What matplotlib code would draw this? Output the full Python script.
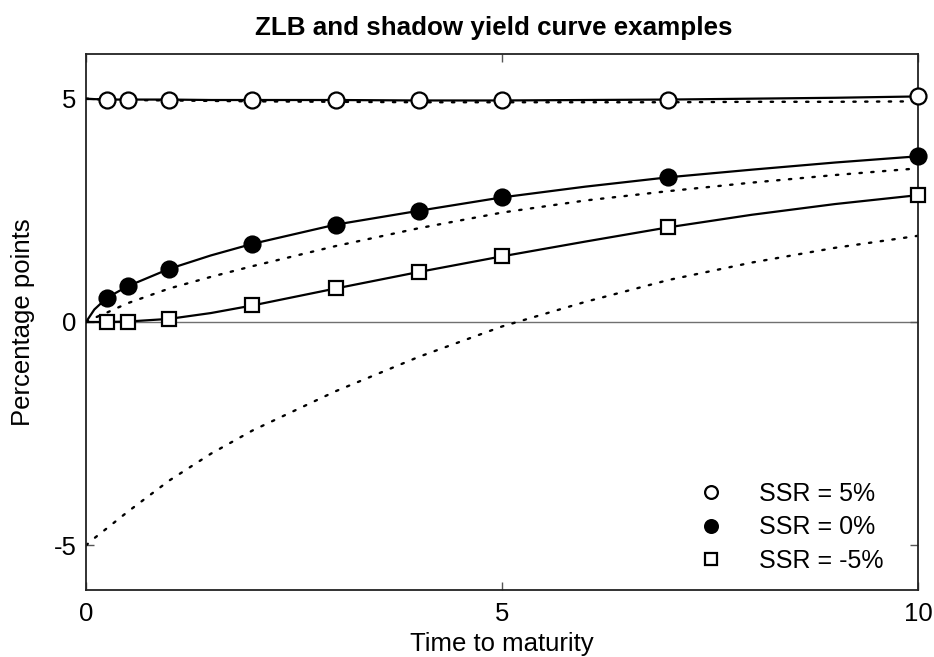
import numpy as np
import matplotlib
matplotlib.use("Agg")
import matplotlib.pyplot as plt

plt.rcParams['font.family'] = ['Liberation Sans', 'DejaVu Sans']
plt.rcParams['axes.unicode_minus'] = False

# maturities where the markers sit
mat = [0.25, 0.5, 1, 2, 3, 4, 5, 7, 10]
pts_ssr5 = [4.98, 4.98, 4.98, 4.97, 4.97, 4.96, 4.96, 4.98, 5.05]
pts_ssr0 = [0.54, 0.80, 1.19, 1.75, 2.18, 2.49, 2.79, 3.24, 3.71]
pts_ssrm5 = [0.0, 0.0, 0.07, 0.37, 0.75, 1.12, 1.47, 2.12, 2.84]

grid = [0, 0.1, 0.25, 0.5, 1, 1.5, 2, 3, 4, 5, 6, 7, 8, 9, 10]
zlb_ssr5 = [5.0, 4.99, 4.98, 4.98, 4.98, 4.97, 4.97, 4.97, 4.96, 4.96, 4.97, 4.98, 5.0, 5.02, 5.05]
zlb_ssr0 = [0.0, 0.28, 0.54, 0.80, 1.19, 1.49, 1.75, 2.18, 2.49, 2.79, 3.03, 3.24, 3.41, 3.57, 3.71]
zlb_ssrm5 = [0.0, 0.0, 0.0, 0.01, 0.07, 0.20, 0.37, 0.75, 1.12, 1.47, 1.80, 2.12, 2.40, 2.64, 2.84]
sh_ssr5 = [5.0, 4.99, 4.98, 4.97, 4.96, 4.95, 4.94, 4.93, 4.92, 4.92, 4.92, 4.92, 4.93, 4.93, 4.94]
sh_ssr0 = [0.0, 0.09, 0.21, 0.42, 0.75, 1.01, 1.25, 1.70, 2.10, 2.45, 2.72, 2.93, 3.12, 3.29, 3.44]
sh_ssrm5 = [-5.0, -4.84, -4.62, -4.25, -3.55, -2.95, -2.43, -1.55, -0.78, -0.10, 0.45, 0.94, 1.33, 1.66, 1.93]

fig = plt.figure(figsize=(9.34, 6.57), dpi=100)
ax = fig.add_axes([0.0921, 0.102, 0.8908, 0.8158])

ax.axhline(0, color='#707070', lw=1.0, zorder=1)

dots = (0, (1, 4))
for sh in [sh_ssr5, sh_ssr0, sh_ssrm5]:
    ax.plot(grid, sh, color='black', lw=1.7, linestyle=dots, dash_capstyle='round', zorder=2)
for z in [zlb_ssr5, zlb_ssr0, zlb_ssrm5]:
    ax.plot(grid, z, color='black', lw=1.6, zorder=3)

ax.plot(mat, pts_ssr5, 'o', ms=11.5, mfc='white', mec='black', mew=1.6, ls='none', label='SSR = 5%', zorder=4, clip_on=False)
ax.plot(mat, pts_ssr0, 'o', ms=11.5, mfc='black', mec='black', mew=1.6, ls='none', label='SSR = 0%', zorder=4, clip_on=False)
ax.plot(mat, pts_ssrm5, 's', ms=10, mfc='white', mec='black', mew=1.6, ls='none', label='SSR = -5%', zorder=4, clip_on=False)

ax.set_xlim(0, 10)
ax.set_ylim(-6, 6)
ax.set_xticks([0, 5, 10])
ax.set_yticks([-5, 0, 5])
ax.tick_params(direction='in', length=6, width=1, color='#555555', labelsize=18.5,
               top=True, right=True)
ax.tick_params(axis='x', pad=9)
ax.tick_params(axis='y', pad=7)
for s in ax.spines.values():
    s.set_linewidth(1.3)
    s.set_color('#222222')

ax.set_title('ZLB and shadow yield curve examples', fontsize=18.7, fontweight='bold', pad=14, x=0.49)
ax.set_xlabel('Time to maturity', fontsize=18.5, labelpad=4)
ax.set_ylabel('Percentage points', fontsize=18.5, labelpad=13)

leg = ax.legend(loc='lower right', frameon=False, fontsize=18, markerscale=0.8,
                handlelength=1.0, handletextpad=1.4, labelspacing=0.38,
                bbox_to_anchor=(0.985, -0.01))

fig.savefig('out.png', dpi=100)
